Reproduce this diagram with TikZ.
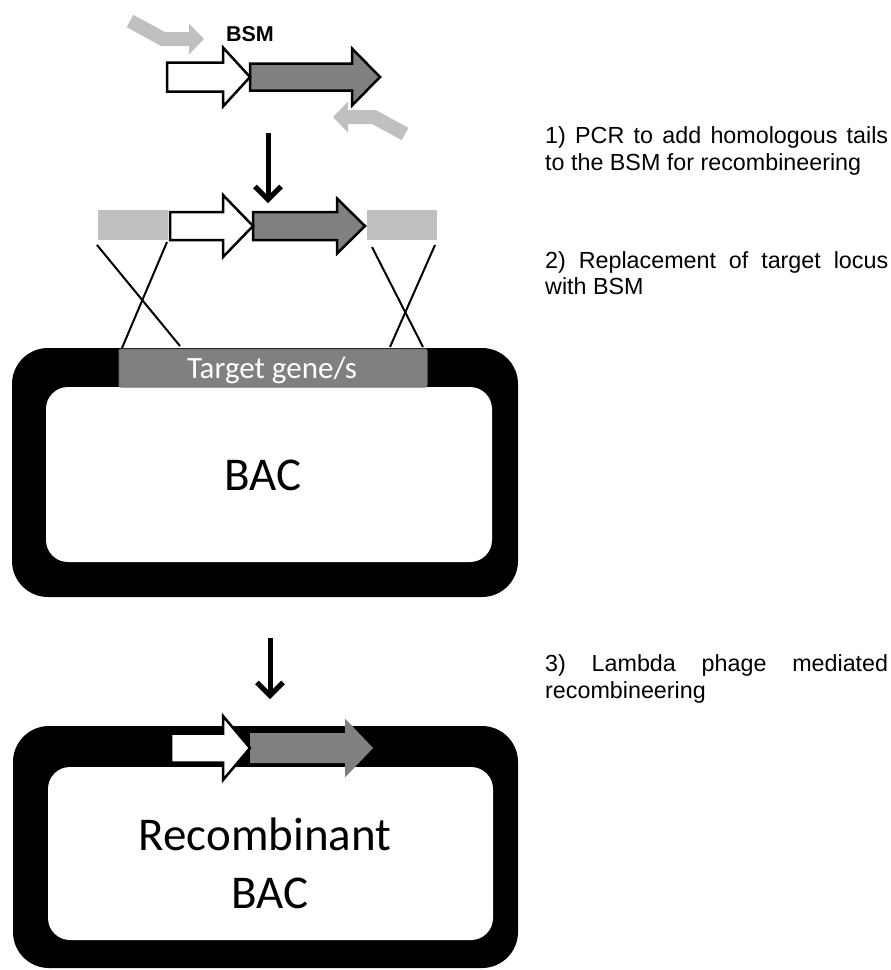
\documentclass[tikz,border=0pt]{standalone}
\usepackage{fontspec}
\setmainfont{Liberation Sans}
\newfontfamily\calfont{Carlito}
\usetikzlibrary{arrows.meta}
\definecolor{dgray}{HTML}{808080}
\definecolor{lgray}{HTML}{C0C0C0}
\newcommand{\genearrow}[7]{%
  \draw[#1] (#2,#5-#6) -- (#3,#5-#6) -- (#3,#5-#7) -- (#4,#5) -- (#3,#5+#7) -- (#3,#5+#6) -- (#2,#5+#6) -- cycle;}
\tikzset{
  bacout/.style={fill=black, draw=none, rounded corners=36pt, inner sep=0pt},
  bacin/.style={fill=white, draw=none, rounded corners=22pt, inner sep=0pt},
  calbig/.style={font=\calfont\fontsize{47}{56}\selectfont, inner sep=0pt, anchor=base},
  targetbox/.style={fill=dgray, draw=black!55, line width=1pt, rounded corners=2pt, inner sep=0pt},
  homol/.style={fill=lgray, draw=none, inner sep=0pt, minimum width=70pt, minimum height=30pt},
  warrow/.style={fill=white, draw=black, line width=2.5pt, line join=miter},
  darrow/.style={fill=dgray, draw=black, line width=2.5pt, line join=miter},
  darrowplain/.style={fill=dgray, draw=none},
  primer/.style={draw=lgray, line width=14pt, line join=miter, -{Triangle[length=15pt,width=30pt]}},
  downarr/.style={line width=5pt, -{Straight Barb[length=13pt,width=26pt]}},
  crossline/.style={line width=2pt, draw=black},
  rtext/.style={font=\fontsize{23.3}{27}\selectfont, inner sep=0pt, anchor=base west},
}
\begin{document}
\begin{tikzpicture}[x=1pt,y=-1pt]
\fill[white] (0,0) rectangle (891,970);
\useasboundingbox (0,0) rectangle (891,970);

% ---- top: BSM with primers
\node[font=\bfseries\fontsize{21.5}{24}\selectfont, inner sep=0pt, anchor=base] (bsm) at (250,41) {BSM};
\genearrow{darrow}{250}{352}{380}{77}{13.5}{28.5}
\genearrow{warrow}{167}{223}{250}{77}{14.5}{29.5}
\coordinate (p1a) at (130,21);
\coordinate (p1b) at (163,39);
\coordinate (p1c) at (204,39);
\draw[primer] (p1a) -- (p1b) -- (p1c);
\coordinate (p2a) at (405,134);
\coordinate (p2b) at (374,117);
\coordinate (p2c) at (333,117);
\draw[primer] (p2a) -- (p2b) -- (p2c);

% ---- arrow 1
\coordinate (d1s) at (268,133);
\coordinate (d1e) at (268,203);
\draw[downarr] (d1s) -- (d1e);

% ---- BSM with homology tails
\node[homol] (hl) at (133,225) {};
\node[homol] (hr) at (402,225) {};
\genearrow{darrow}{253}{337}{365}{226}{14}{27.5}
\genearrow{warrow}{170}{223}{253}{226}{14}{31}

% ---- BAC 1
\node[bacout, minimum width=506pt, minimum height=249pt] (bac1) at (265,472.5) {};
\node[bacin, minimum width=446pt, minimum height=175pt] (bac1in) at (269,474.5) {};
\node[calbig] (bac1t) at (263,490) {BAC};
\node[targetbox, minimum width=308pt, minimum height=38pt] (tg) at (273,368) {};
\node[font=\calfont\fontsize{31}{36}\selectfont, text=white, inner sep=0pt, anchor=base] (tgt) at (272,378) {Target gene/s};

% crossover lines
\coordinate (xl1a) at (97,245);  \coordinate (xl1b) at (180,346);
\coordinate (xl2a) at (167,242); \coordinate (xl2b) at (122,348);
\coordinate (xr1a) at (372,247); \coordinate (xr1b) at (423,347);
\coordinate (xr2a) at (435,245); \coordinate (xr2b) at (390,347);
\draw[crossline] (xl1a) -- (xl1b);
\draw[crossline] (xl2a) -- (xl2b);
\draw[crossline] (xr1a) -- (xr1b);
\draw[crossline] (xr2a) -- (xr2b);

% ---- arrow 2
\coordinate (d2s) at (270,638);
\coordinate (d2e) at (270,699);
\draw[downarr] (d2s) -- (d2e);

% ---- Recombinant BAC
\node[bacout, minimum width=505pt, minimum height=242pt] (bac2) at (265.5,847) {};
\node[bacin, minimum width=445pt, minimum height=173pt] (bac2in) at (270.5,853.5) {};
\node[calbig] (rb1) at (265,850) {Recombinant};
\node[calbig] (rb2) at (270,908) {BAC};
\genearrow{darrowplain}{250}{345}{373}{748}{15}{29.5}
\genearrow{warrow}{171}{223}{250}{748}{14.5}{32}

% ---- step texts
\node[rtext] (t1a) at (545,143) {\makebox[343pt][s]{1) PCR to add homologous tails}};
\node[rtext] (t1b) at (545,170) {to the BSM for recombineering};
\node[rtext] (t2a) at (545,268) {\makebox[343pt][s]{2) Replacement of target locus}};
\node[rtext] (t2b) at (545,294) {with BSM};
\node[rtext] (t3a) at (545,671) {\makebox[343pt][s]{3) Lambda phage mediated}};
\node[rtext] (t3b) at (545,698) {recombineering};
\end{tikzpicture}
\end{document}
